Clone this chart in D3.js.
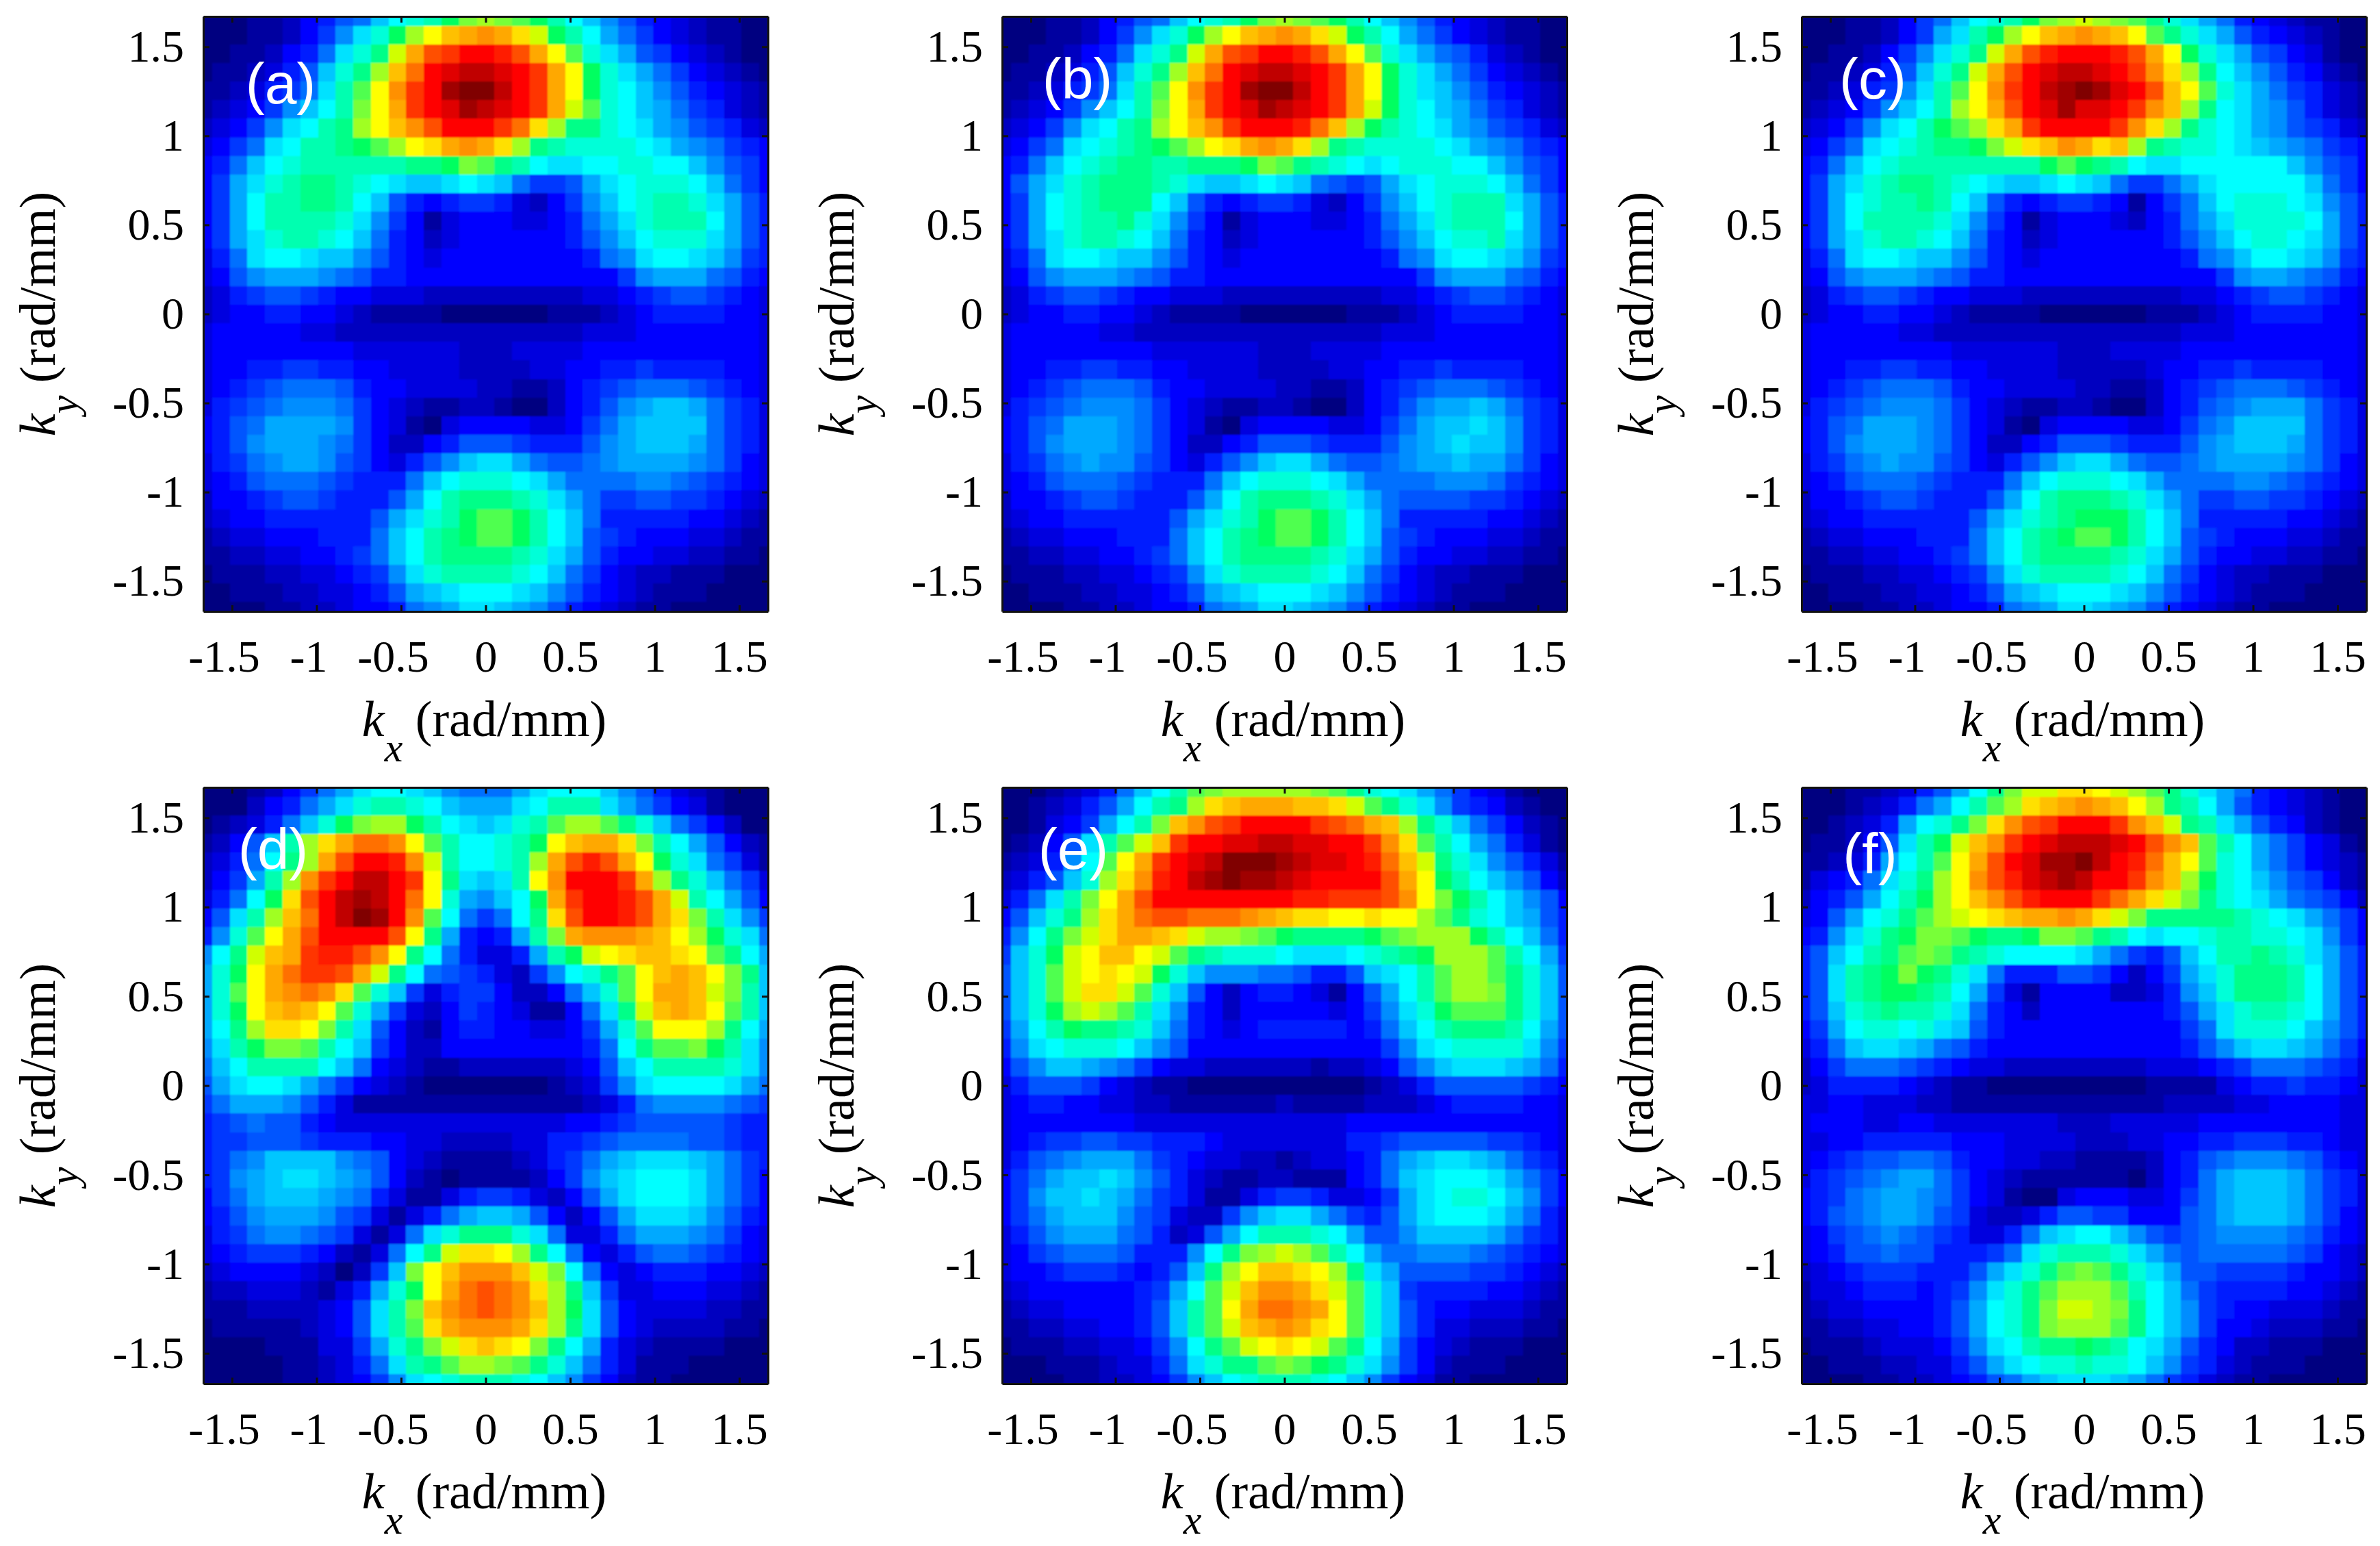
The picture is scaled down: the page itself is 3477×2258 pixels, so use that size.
<!DOCTYPE html>
<html>
<head>
<meta charset="utf-8">
<style>
    html, body { margin: 0; padding: 0; background: #fff; }
</style>
<script src="https://cdn.jsdelivr.net/npm/d3@7"></script>
</head>
<body>
<div id="chart"></div>
<script>
// Each row is one line of cells, top row first, left to right.
// One base-36 digit per cell: 0 = navy, 4 = blue, d = cyan, m = yellow, v = red, z = dark red.
const panelA = [
"0001124578b defhjkjihfd b9754321100","000112469ce hkmopqpnlhf da864321100","00112458ceg lpstvvuspmi eca76432100",
"0112357begk orvwxxwvtpm heca8643210","1123568cfim qtvyzzxvtpm hedb9754321","123469bdfjm ptvwyxwvtpl iedba865321",
"23469cdfgkm oqsvvvtrnkg gedca976532","3468cdffghi kmnpqpnkgfe eeedca98654","458bdefffff fgghjigfdcc ddeeddb9764",
"46acefggfed cbbcdcb8667 acdeeedb864","46adffggfdb 75456653246 9bdeffeca75","46adffffec9 64134443345 8acefffda75",
"46aceffedb8 54234444445 79bdeeeca75","358cddcbb97 54344444444 589cddcb965","3479aaa9875 54444444444 4469aaa8754",
"23567765443 33222222222 33456776543","23445544321 11100000011 12345555443","34444433222 22222222222 33344444443",
"34444444433 33332223333 44444444443","34455665544 33332222334 45565555443","34567888754 43333221124 56788876543",
"35678999864 32112210024 579abba8653","4578aaaa964 31034444334 68abbbb8653","4579aaa9864 22457776555 79abbba8653",
"35689aa9764 3579bcca877 89aaaa98643","34578887655 58bdeeedca8 88899876543","24456776555 7adfgggfeca 86677665432",
"23445555557 acefhiihfdb 85555544321","12334445558 bdfghiihfdb 76544433211","11223344568 bdfggggfeca 75443322110",
"01112233456 9ceffffedb8 64322111000","00111223345 7abcdddcb97 54321110000","00001122344 589accba975 43211000000"];
const panelB = [
"0001124578b defhjkjihfd b9754321100","000112469ce hkmopqpnlhf da864321100","00112458ceg lpstvvuspmi eca87532100",
"0112357begk orvwxxwvtpm heca8643210","1123568cfim qtvyzzxvtpm hecb9754321","123469bdfjm ptvwyxwvtpl hedba865321",
"23469cdfgkm oqtvvvurokh fedca976532","3468cdefghi kmnpqpnkgfe eeedca98654","458bdefggff ggghjigfedc deeeddb9764",
"47acefgggfe cbbcdcb8767 acdeeedb864","46adefgggdb 75456653246 9bdefffca75","46adeffgec9 64134443345 8acefffda75",
"46aceffedb8 54234444445 79bdeefca75","358cddcbb97 54344444444 589cddcb965","3479aaa9875 54444444444 4469aaa8754",
"23567765443 33222222222 33456776543","23445544321 11100000011 12345555443","34444433222 22222222222 33344444443",
"34444444433 33332223333 44444444443","34455665544 33332222334 45565555443","34567888754 43333221124 56788876543",
"35678999864 32112210024 579aaba8653","4578aaa9864 31034444334 68abbcb9653","4579aaa9864 22457776555 79abcbb9653",
"35689a99764 3579bcca877 89aabaa8643","34578887655 58bdeeedca8 88899986543","24456776555 7adfgggfeca 87777665432",
"23445555557 acefhiihfdb 85555544321","12334445558 bdfghiihfdb 76544433211","11223344568 bdfggggfeca 75443322110",
"01112233456 9ceffffedb8 64322111000","00111223345 7abcdddcb97 54321110000","00001122344 589accba975 43211000000"];
const panelC = [
"000112468bd efhjklkjige ca854321100","00011246acf hkmopqpomig eca75432100","00112469ceg lpsuvvvuspm heca7643100",
"0112357begl psvwxxwvtqn kgdb9754210","1123569cfim qtvxyzywvso mieca865321","123469bdfkm psvwywwvtqo kgdca975321",
"23469cdfhik nptvvvvtqnk gedca976532","3468cdefggh jlnoqpnokgf eedcba98654","458bdefffff fffhihgfdcc ddddddb9764",
"46acefggfed cbbcdcb8668 acdddddb864","46adeffgfdb 75456654146 8bdeeedc975","46adffffec9 64134443245 8aceeeeda75",
"46aceffedb8 54234444445 79bdeedca75","358cddcbb97 54344444444 589bddcb965","3479aaa9875 54444444444 4469aa98754",
"23567765443 33222222222 33456776543","23445544321 11100000011 12345555443","34444433222 22222222222 33344444443",
"34444444433 33332223333 44444444443","34455665544 33332222234 45565555443","34567888754 43333221124 56788876543",
"35678999864 32112210024 5789aaa8653","4578aaa9864 31034444334 689bbbb8653","4579aaa9864 22457776555 79abbba8653",
"35689a99764 3579bcca877 89aaaa98643","34578887655 58bdeeedca8 88899876543","24456776555 7adfgggfeca 86677665432",
"23445555557 acefghhhfdb 85555544321","12334445558 bdfghiihfdb 76544433211","11223344568 bdfggggfeca 75443322110",
"01112233456 9ceffffedb8 64322111000","00111223345 7abcdddcb97 54321110000","00001122344 589accba975 43211000000"];
const panelD = [
"00012468acd dcb9888acdd db975321000","0002458acef fedbaaacdff fca86431000","012358behjk khfdcbcefik kigeb864200",
"1247bfknprr qmifddefhmo ppnjfda7421","2358dgkpsvv uqlfddefkps uspmhec8631","246afkqtvxx vtmgcbcfmqv vvtpkgeb863",
"358dhnsvxyx vrmea9bdhpt vvusplfda74","47cfkorvxzy vqid868dgns vvuspnjfc96","59eimpsvvvv smga545afjp qqqpomkhec8",
"9dgloptuusq mgd85335afh lmnoonmigda","aehmprttspl gd87653269d egimopomjgb","aeimpqrqnie b6356642248 beimppoljfb",
"aehmopomiea 63246543114 8cglopomifb","adgknnmjfc7 42145544334 6aeimmmkgda","9cfhjjifdb6 42244444444 58dgiijhfc9",
"8bdffffdb84 32112222223 47bdffffec9","7acddca8643 21000000012 369cddddca8","68aaa975311 11111111111 23589999876",
"56787754333 33333333334 45677777655","56677765554 43322223355 67888877655","5689bbbb987 43211112356 8abcccba865",
"569abccba97 42101111246 9bcdddca864","468abbba985 31135665324 7acdddca864","4579aaa9763 1358abba742 47acccb9754",
"35689987631 38cegggec83 358aaa98643","34566654213 8dglnnmkgd8 43578876543","23444432026 bjmoqqqoljd 84345554432",
"1223332135a ehmprsrqnkg b6334443321","1112222347c fjoqrsrqokh c7433332211","0111112347c finpqqqpnkg c7432222110",
"0000111336a egjlnonmjgd a5321111000","00000112358 cfgikkjigeb 85311100000","00000112346 9cdefffedb9 64211000000"];
const panelE = [
"00012358bdf ijkkkkkjige dca86431000","0012357adfg knopppoonli gec96542100","001346adfjo qstvvvvtsrp okgeb864210",
"01247cfilot vvwwxxwwvvt qnifda85310","12359dimptv wxzzzyxwwvu rolgec97531","2357beknquv xyzyyxwvvvv spmhfdb9742",
"358cfjmpsvv vvvvvvuuttt sqmjhfdb974","47begknprss rrrqponnmmn mmkigedba75","59dgjlnppon lkkjihggggh ijkkkhfdb85",
"6behlmoomli gfeeedcccde fghkkkifda6","7beilmnmlhe b999887557b cdfikkigeb7","7beilnnlieb 74245543147 adfikkjgeb7",
"7behklkifc9 54244444346 9cehiiigeb7","6adfhggfeb8 54345555545 8bdfgggfda7","59cdeeedb97 44444444444 69cdeeeec96",
"479bba98643 32222221223 479bcccba85","35777643211 00000000001 23577777654","34554433221 11111211112 22345555443",
"34444444333 33333333344 44444444443","34566776655 54333333355 67777766543","35789aaa865 43322123345 8abccba8653",
"468abbcb975 32112211145 8bcdddca864","469bbcba865 31135665334 6acdeedb964","468abbb9763 2269bcca865 7acdddca853",
"3579aaa8752 37adfffeda7 79bbbba8653","34678887555 9dgjklkifda 88999876543","34456665457 bgkmoonmkgc a7777665432",
"2344444456a diloqqpnlie b6555544321","1233444457b fimprrqpmie b7544333211","1122334457b filopqpnmie b7533222110",
"01112233469 dgilmnmligd a6432111000","00011123358 ceggijihgec 96421110000","00001122346 9bdefffedb9 64311000000"];
const panelF = [
"000112357ad gjllnnmlkig eca85432100","00012358adf iknopqpomkg fda75432100","001235adegj nqstvvvtqol gfca7542100",
"011247cfhlo qtvwxxxwvsq oifda864310","11235adfimp svwyyzxvuro mieda864321","13458cegkmq suwxyxvvtqo khedb976421",
"2457adfhkmo qsuvvvtrpnl jgedca87642","347adegiklm noppqpnljgg gggfedca864","459ceghjjih gghjjigfdcd deffeedc964",
"57bdfgijigf eddddca8657 bdffgfeca75","57cfghjhgec 85557764246 acegggfda75","57cfghhgfda 63144442235 9begggfda75",
"57befgffec8 54244444445 7aceffeda75","46adeedecb7 54444444444 68ceeedb975","358bccba875 44444444444 579bccba864",
"24688876543 32222222233 34568887653","23555543211 00000000011 11345565543","33443332211 11111111112 22233444433",
"34443344333 33332223333 34444444433","33445555544 43333222334 45566655433","34567788754 43322111124 57899987543",
"356789aa864 32111111024 58abbba8653","45689aa9864 31003444334 68abbba8653","45789aa9763 22357766444 78abbba8643",
"34678987653 358bcddb976 78999987543","34577877555 68cefffeca8 78888876432","23456665557 acegijigeca 77666654432",
"13345554569 cegikkkifdb 86555544321","1233444457a degjllkjgdb 96544333211","1122334457a degjkkkigdb 96443222110",
"01112333469 cdfgghgfdca 75422111000","00111223357 acdeefeedb9 65321110000","00001122345 78abcccba86 53211000000"];

const panelNames = ['(a)', '(b)', '(c)', '(d)', '(e)', '(f)'];
const panelRows = [panelA, panelB, panelC, panelD, panelE, panelF];
const tickValues = [-1.5, -1, -0.5, 0, 0.5, 1, 1.5];
const kLimit = 1.67;

const width = 3477;
const height = 2258;
const columnsX = [[297, 1122], [1464, 2289], [2632, 3457]];
const rowsY = [[24, 893], [1150, 2021]];
// where the white panel letter sits inside each frame: centre x, baseline y
const letterSpots = [[113, 127], [110, 120], [104, 120], [102, 119], [104, 119], [100, 126]];

const jet = d3.scaleLinear()
    .domain([0, 4, 8, 13, 15, 17, 18, 20, 21, 22, 24, 26, 28, 31, 33, 35])
    .range(['#000080', '#0000ff', '#0070ff', '#00ffff', '#00ffb0', '#00ff60', '#50ff50', '#a0ff20',
            '#d0ff00', '#ffff00', '#ffc000', '#ff9000', '#ff5000', '#ff0000', '#c00000', '#800000']);

const svg = d3.select('#chart').append('svg')
    .attr('width', width)
    .attr('height', height)
    .attr('viewBox', `0 0 ${width} ${height}`)
    .style('display', 'block');

svg.append('defs').append('filter')
    .attr('id', 'soft')
    .append('feGaussianBlur')
    .attr('stdDeviation', 1);

panelRows.forEach((rows, p) => {
    const [left, right] = columnsX[p % 3];
    const [top, bottom] = rowsY[Math.floor(p / 3)];
    const x = d3.scaleLinear().domain([-kLimit, kLimit]).range([left, right]);
    const y = d3.scaleLinear().domain([-kLimit, kLimit]).range([bottom, top]);
    const step = kLimit / 16;
    const cellW = x(step) - x(0);
    const cellH = y(0) - y(step);

    const cells = [];
    rows.forEach((row, j) => {
        row.replace(/ /g, '').split('').forEach((c, i) => {
            cells.push({ kx: (i - 16) * step, ky: (16 - j) * step, level: parseInt(c, 36) });
        });
    });

    svg.append('clipPath').attr('id', 'clip' + p)
        .append('rect')
        .attr('x', left).attr('y', top)
        .attr('width', right - left).attr('height', bottom - top);

    const g = svg.append('g');

    g.append('g')
        .attr('clip-path', `url(#clip${p})`)
        .append('g')
        .attr('filter', 'url(#soft)')
        .selectAll('rect')
        .data(cells)
        .enter().append('rect')
        .attr('x', d => x(d.kx) - cellW / 2)
        .attr('y', d => y(d.ky) - cellH / 2)
        .attr('width', cellW + 0.6)
        .attr('height', cellH + 0.6)
        .attr('fill', d => jet(d.level))
        .attr('shape-rendering', 'crispEdges');

    // frame and inward ticks on all four sides, labels only on bottom and left
    const styleAxis = sel => {
        sel.selectAll('path, line').attr('stroke', '#111').attr('stroke-width', 3);
        sel.selectAll('text').attr('fill', '#000')
            .attr('font-family', '"Liberation Serif", serif')
            .attr('font-size', 66);
    };
    g.append('g').attr('transform', `translate(0,${bottom})`)
        .call(d3.axisBottom(x).tickValues(tickValues).tickSize(-9).tickSizeOuter(0).tickPadding(41).tickFormat(d => String(d)))
        .call(styleAxis)
        .selectAll('text').attr('dx', d => d < 0 ? -12 : 0);
    g.append('g').attr('transform', `translate(${left},0)`)
        .call(d3.axisLeft(y).tickValues(tickValues).tickSize(-9).tickSizeOuter(0).tickPadding(28).tickFormat(d => String(d)))
        .call(styleAxis);
    g.append('g').attr('transform', `translate(0,${top})`)
        .call(d3.axisTop(x).tickValues(tickValues).tickSize(-9).tickSizeOuter(0).tickFormat(''))
        .call(styleAxis);
    g.append('g').attr('transform', `translate(${right},0)`)
        .call(d3.axisRight(y).tickValues(tickValues).tickSize(-9).tickSizeOuter(0).tickFormat(''))
        .call(styleAxis);

    const axisLabel = (letter, sub, subDrop, transform) => {
        const t = g.append('text')
            .attr('transform', transform)
            .attr('text-anchor', 'middle')
            .attr('font-family', '"Liberation Serif", serif')
            .attr('font-size', 74)
            .attr('fill', '#000');
        t.append('tspan').attr('font-style', 'italic').text(letter);
        t.append('tspan').attr('font-style', 'italic').attr('font-size', 60).attr('dy', subDrop).text(sub);
        t.append('tspan').attr('dy', -subDrop).text(' (rad/mm)');
    };
    axisLabel('k', 'x', 37, `translate(${(left + right) / 2 - 2},${bottom + 182})`);
    axisLabel('k', 'y', 33, `translate(${left - 217},${(top + bottom) / 2}) rotate(-90)`);

    g.append('text')
        .attr('x', left + letterSpots[p][0])
        .attr('y', top + letterSpots[p][1])
        .attr('text-anchor', 'middle')
        .attr('font-family', '"Liberation Sans", sans-serif')
        .attr('font-size', 84)
        .attr('fill', '#fff')
        .text(panelNames[p]);
});
</script>
</body>
</html>
